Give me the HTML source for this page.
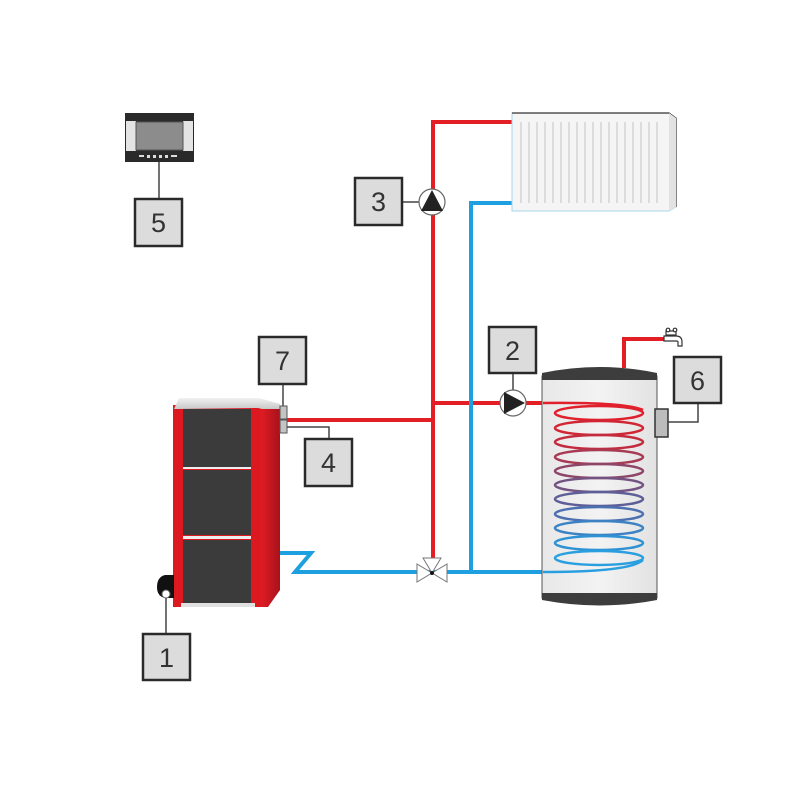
<!DOCTYPE html>
<html><head><meta charset="utf-8"><style>
html,body{margin:0;padding:0;background:#fff;}
svg{display:block;}
text{font-family:"Liberation Sans",sans-serif;font-size:27px;fill:#333;}
</style></head><body>
<svg width="800" height="800" viewBox="0 0 800 800" xmlns="http://www.w3.org/2000/svg">
<defs>
<linearGradient id="lid" x1="0" y1="0" x2="0" y2="1"><stop offset="0" stop-color="#f2f2f2"/><stop offset="1" stop-color="#c8c8c8"/></linearGradient>
<linearGradient id="side" x1="0" y1="0" x2="1" y2="0"><stop offset="0" stop-color="#e01b24"/><stop offset="1" stop-color="#a8121a"/></linearGradient>
<linearGradient id="tank" x1="0" y1="0" x2="1" y2="0"><stop offset="0" stop-color="#e8e8e8"/><stop offset="0.5" stop-color="#f3f3f3"/><stop offset="1" stop-color="#e2e2e2"/></linearGradient>
</defs>

<!-- Controller -->
<rect x="125" y="113" width="69" height="49" fill="#2a2a2a"/>
<rect x="126" y="121" width="10" height="30" fill="#e4e4e4"/>
<rect x="183" y="121" width="10" height="30" fill="#e4e4e4"/>
<rect x="136" y="122" width="47" height="28" fill="#8c8c8c" stroke="#555" stroke-width="1"/>
<g fill="#ddd"><rect x="139" y="155" width="5" height="2"/><rect x="147" y="155" width="3" height="3"/><rect x="153" y="155" width="3" height="3"/><rect x="159" y="155" width="3" height="3"/><rect x="165" y="155" width="3" height="3"/><rect x="171" y="155" width="6" height="2"/></g>
<line x1="159" y1="162" x2="159" y2="199" stroke="#444" stroke-width="1.5"/>

<!-- Pipes red -->
<g stroke="#e31e24" stroke-width="4" fill="none">
<polyline points="287,420 433,420"/>
<polyline points="433,558 433,122 513,122"/>
<polyline points="433,403 545,403"/>
<polyline points="624,368 624,339 664,339"/>
</g>
<!-- Pipes blue -->
<g stroke="#1e9fe0" stroke-width="4" fill="none">
<polyline points="279,553 311,553 295,572 545,572"/>
<polyline points="471,572 471,203 514,203"/>
</g>

<!-- Radiator -->
<polygon points="512,113 669,113 676,118 676,207 669,211 512,211" fill="#f5f5f5" stroke="#a8d4ea" stroke-width="1"/>
<polyline points="512,113 669,113 676,118 676,207" fill="none" stroke="#333" stroke-width="1.2"/>
<polygon points="669,113 676,118 676,207 669,211" fill="#e2e2e2"/>
<g stroke="#dcdcdc" stroke-width="2">
<line x1="521" y1="122" x2="521" y2="203"/><line x1="529" y1="122" x2="529" y2="203"/><line x1="537" y1="122" x2="537" y2="203"/><line x1="545" y1="122" x2="545" y2="203"/><line x1="553" y1="122" x2="553" y2="203"/><line x1="561" y1="122" x2="561" y2="203"/><line x1="569" y1="122" x2="569" y2="203"/><line x1="577" y1="122" x2="577" y2="203"/><line x1="585" y1="122" x2="585" y2="203"/><line x1="593" y1="122" x2="593" y2="203"/><line x1="601" y1="122" x2="601" y2="203"/><line x1="609" y1="122" x2="609" y2="203"/><line x1="617" y1="122" x2="617" y2="203"/><line x1="625" y1="122" x2="625" y2="203"/><line x1="633" y1="122" x2="633" y2="203"/><line x1="641" y1="122" x2="641" y2="203"/><line x1="649" y1="122" x2="649" y2="203"/><line x1="657" y1="122" x2="657" y2="203"/>
</g>

<!-- Pump 3 -->
<line x1="403" y1="202" x2="419" y2="202" stroke="#444" stroke-width="1.5"/>
<circle cx="432" cy="202" r="13" fill="#fff" stroke="#666" stroke-width="1.2"/>
<polygon points="432,190 443,211 421,211" fill="#222"/>

<!-- Pump 2 -->
<line x1="513" y1="373" x2="513" y2="390" stroke="#444" stroke-width="1.5"/>
<circle cx="513" cy="403" r="13" fill="#fff" stroke="#666" stroke-width="1.2"/>
<polygon points="525,403 504,392 504,414" fill="#222"/>

<!-- Valve -->
<g fill="#fff" stroke="#777" stroke-width="1">
<polygon points="417,564 417,582 432,573"/>
<polygon points="447,564 447,582 432,573"/>
<polygon points="423,558 441,558 432,573"/>
</g>
<circle cx="432" cy="573" r="2" fill="#111"/>

<!-- Boiler -->
<rect x="173" y="405" width="89" height="202" fill="#dc1820"/>
<polygon points="261,404 280,404 280,590 268,607 261,607" fill="url(#side)"/>
<polygon points="174,409 179,398 259,398 280,404 280,409 262,409 258,408 178,409" fill="url(#lid)"/>
<rect x="183" y="409" width="68" height="58" fill="#3b3b3b"/>
<rect x="183" y="467" width="68" height="2" fill="#eee"/>
<rect x="183" y="470" width="68" height="65" fill="#3b3b3b"/>
<rect x="183" y="536" width="68" height="3" fill="#eee"/>
<rect x="183" y="540" width="68" height="63" fill="#3b3b3b"/>
<rect x="181" y="603" width="74" height="4" fill="#e0e0e0"/>
<!-- burner -->
<path d="M174,575 L165,575 Q157,577 157,587 Q157,597 166,598 L174,598 Z" fill="#111"/>
<circle cx="166" cy="594" r="4" fill="#fff" stroke="#666" stroke-width="1"/>
<line x1="166" y1="598" x2="166" y2="634" stroke="#444" stroke-width="1.5"/>
<!-- sensors 7/4 -->
<line x1="283" y1="384" x2="283" y2="406" stroke="#444" stroke-width="1.5"/>
<rect x="280" y="406" width="7" height="13" fill="#c4c4c4" stroke="#555" stroke-width="1"/>
<rect x="280" y="420" width="7" height="13" fill="#c4c4c4" stroke="#555" stroke-width="1"/>
<polyline points="287,427 329,427 329,439" fill="none" stroke="#444" stroke-width="1.5"/>

<!-- Tank -->
<rect x="542" y="376" width="115" height="222" fill="url(#tank)" stroke="#555" stroke-width="1"/>
<path d="M542,380 L542,373 Q600,361 657,373 L657,380 Z" fill="#3d3d3d"/>
<path d="M542,593 L657,593 L657,600 Q600,611 542,600 Z" fill="#3d3d3d"/>
<!-- coil -->
<g fill="none" stroke-width="2.5">
<path d="M543,403 Q625,402 643,410" stroke="#e0202c"/>
<ellipse cx="599" cy="413" rx="44" ry="7" stroke="#e0202c"/>
<ellipse cx="599" cy="428" rx="44" ry="7" stroke="#d12634"/>
<ellipse cx="599" cy="442" rx="44" ry="7" stroke="#c22c3e"/>
<ellipse cx="599" cy="457" rx="44" ry="7" stroke="#a83a54"/>
<ellipse cx="599" cy="471" rx="44" ry="7" stroke="#8e4668"/>
<ellipse cx="599" cy="485" rx="44" ry="7" stroke="#745282"/>
<ellipse cx="599" cy="499" rx="44" ry="7" stroke="#5e5e98"/>
<ellipse cx="599" cy="514" rx="44" ry="7" stroke="#4c70b0"/>
<ellipse cx="599" cy="528" rx="44" ry="7" stroke="#3c82c4"/>
<ellipse cx="599" cy="543" rx="44" ry="7" stroke="#2e92d4"/>
<ellipse cx="599" cy="558" rx="44" ry="7" stroke="#2a9fe0"/>
<path d="M643,560 Q630,572 543,572" stroke="#2a9fe0"/>
</g>
<!-- tank sensor -->
<rect x="655" y="409" width="13" height="28" fill="#bcbcbc" stroke="#333" stroke-width="1.5"/>
<polyline points="668,422 698,422 698,403" fill="none" stroke="#444" stroke-width="1.5"/>

<!-- tap -->
<g fill="#fff" stroke="#333" stroke-width="1.2">
<path d="M664,336 L676,336 Q682,336 682,342 L682,346 L678,346 L678,342 Q678,341 676,341 L664,341 Z"/>
<rect x="666" y="331" width="10" height="4"/>
<circle cx="668" cy="330" r="1.8"/><circle cx="675" cy="330" r="1.8"/>
</g>

<!-- Boxes -->
<g fill="#dcdcdc" stroke="#2a2a2a" stroke-width="2.5">
<rect x="135" y="199" width="47" height="47"/>
<rect x="355" y="178" width="47" height="47"/>
<rect x="259" y="337" width="47" height="47"/>
<rect x="305" y="439" width="47" height="47"/>
<rect x="489" y="327" width="47" height="46"/>
<rect x="674" y="357" width="47" height="46"/>
<rect x="143" y="634" width="47" height="46"/>
</g>
<g text-anchor="middle">
<text x="158.5" y="232">5</text>
<text x="378.5" y="211">3</text>
<text x="282.5" y="370">7</text>
<text x="328.5" y="472">4</text>
<text x="512.5" y="360">2</text>
<text x="697.5" y="390">6</text>
<text x="166.5" y="667">1</text>
</g>
</svg>
</body></html>
